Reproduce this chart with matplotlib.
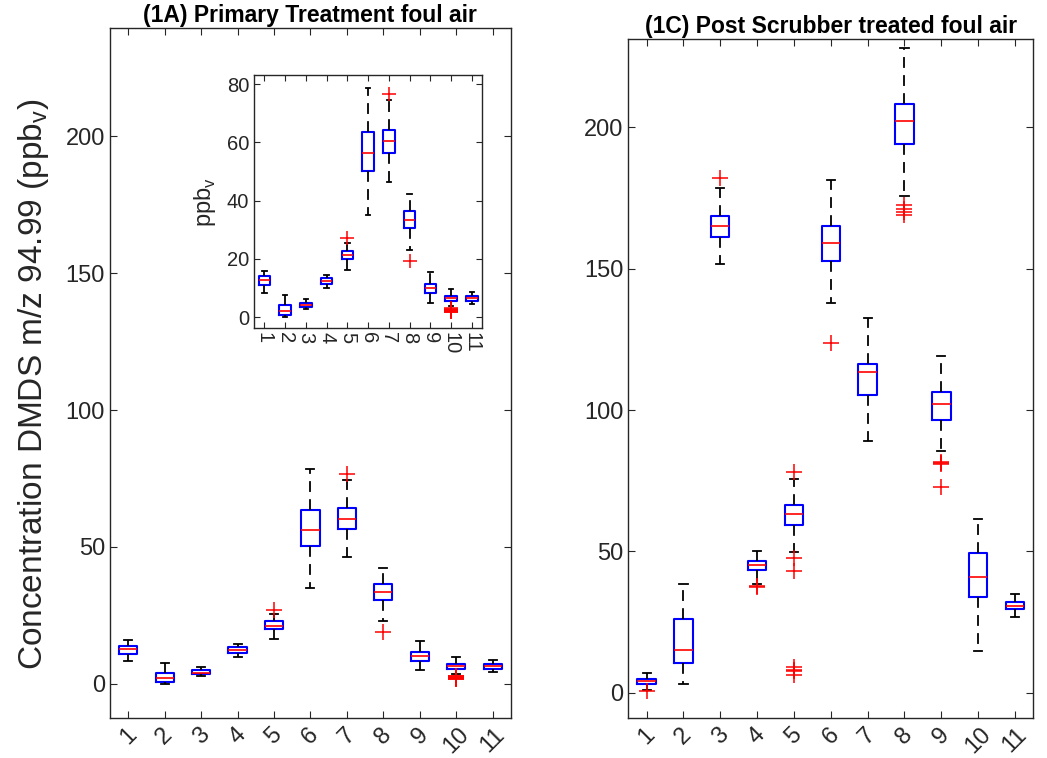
import matplotlib
matplotlib.use("Agg")
import matplotlib.pyplot as plt

plt.rcParams["font.family"] = ["Liberation Sans", "DejaVu Sans"]
plt.rcParams["mathtext.fontset"] = "custom"
plt.rcParams["mathtext.rm"] = "Liberation Sans"

groups = [str(i) for i in range(1, 12)]

# (1A) primary treatment foul air, box statistics per group
pt_med = [12.6, 2.0, 4.1, 12.3, 21.3, 56.3, 60.3, 33.5, 10.0, 6.6, 6.5]
pt_q1 = [11.0, 0.6, 3.5, 11.3, 19.9, 50.2, 56.5, 30.6, 8.4, 5.6, 5.6]
pt_q3 = [14.0, 4.0, 4.9, 13.3, 22.8, 63.5, 64.3, 36.3, 11.5, 7.4, 7.3]
pt_lo = [8.4, 0.1, 2.7, 9.9, 16.3, 35.0, 46.5, 23.0, 5.0, 3.7, 4.5]
pt_hi = [15.9, 7.6, 6.2, 14.6, 25.5, 78.5, 74.5, 42.4, 15.6, 9.8, 8.8]
pt_out = [[], [], [], [], [27.0], [], [76.5], [19.1], [],
          [1.6, 1.9, 2.1, 2.3, 2.5, 2.8, 3.0], []]

# (1C) post scrubber treated foul air
ps_med = [4.3, 15.1, 164.9, 45.1, 63.4, 159.1, 113.4, 202.1, 102.1, 41.1, 30.9]
ps_q1 = [3.3, 10.6, 161.2, 43.3, 59.3, 152.8, 105.4, 194.1, 96.5, 33.9, 29.6]
ps_q3 = [5.1, 26.2, 168.6, 46.5, 66.4, 165.1, 116.4, 208.2, 106.3, 49.6, 32.3]
ps_lo = [1.2, 3.3, 151.5, 38.5, 49.8, 137.8, 89.1, 175.6, 85.4, 15.0, 26.9]
ps_hi = [7.0, 38.6, 178.4, 50.1, 75.6, 181.4, 132.4, 228.0, 119.2, 61.4, 35.1]
ps_out = [[0.7], [], [181.9], [37.6, 37.8],
          [78.0, 47.6, 43.2, 9.0, 8.0, 7.7, 6.2], [123.7], [],
          [172.5, 171.2, 170.0, 168.8], [81.0, 81.3, 81.6, 72.8], [], []]

GREY = "#262626"


def make_stats(med, q1, q3, lo, hi, out):
    return [dict(med=m, q1=a, q3=b, whislo=l, whishi=h, fliers=f, label=g)
            for m, a, b, l, h, f, g in zip(med, q1, q3, lo, hi, out, groups)]


def draw_boxes(ax, stats, width, msize):
    ax.bxp(stats, widths=width, capwidths=0.22,
           boxprops=dict(color="blue", linewidth=1.5),
           medianprops=dict(color="red", linewidth=1.2),
           whiskerprops=dict(color="black", linewidth=1.3, linestyle=(0, (6, 4))),
           capprops=dict(color="black", linewidth=1.3),
           flierprops=dict(marker="+", markeredgecolor="red", markersize=msize,
                           markeredgewidth=1.1, linestyle="none"))
    ax.set_xlim(0.5, 11.5)
    ax.tick_params(direction="in", top=True, right=True, length=5, width=0.8,
                   colors=GREY, labelcolor=GREY)
    for sp in ax.spines.values():
        sp.set_color(GREY)
        sp.set_linewidth(1.0)


fig = plt.figure(figsize=(10.47, 7.58), dpi=100)

ax1 = fig.add_axes([0.105, 0.053, 0.383, 0.910])
draw_boxes(ax1, make_stats(pt_med, pt_q1, pt_q3, pt_lo, pt_hi, pt_out), 0.5, 11)
ax1.set_ylim(-12.4, 239.5)
ax1.set_yticks([0, 50, 100, 150, 200])
ax1.tick_params(axis="both", labelsize=17)
ax1.tick_params(axis="x", rotation=45, pad=4)
ax1.set_title("(1A) Primary Treatment foul air", fontsize=16.5, fontweight="bold", pad=4)
ax1.set_ylabel(r"Concentration DMDS m/z 94.99 (ppb$_\mathregular{v}$)", fontsize=24, color=GREY)
ax1.yaxis.set_label_coords(-0.147, 0.483)

ins = fig.add_axes([0.2426, 0.567, 0.218, 0.334])
draw_boxes(ins, make_stats(pt_med, pt_q1, pt_q3, pt_lo, pt_hi, pt_out), 0.55, 9.5)
ins.set_ylim(-3.8, 83.1)
ins.set_yticks([0, 20, 40, 60, 80])
ins.tick_params(axis="both", labelsize=14.5, length=4)
ins.tick_params(axis="x", rotation=270, pad=3)
ins.set_ylabel(r"ppb$_\mathregular{v}$", fontsize=17, color=GREY, labelpad=6)

ax2 = fig.add_axes([0.600, 0.053, 0.387, 0.896])
draw_boxes(ax2, make_stats(ps_med, ps_q1, ps_q3, ps_lo, ps_hi, ps_out), 0.5, 11)
ax2.set_ylim(-8.8, 231.3)
ax2.set_yticks([0, 50, 100, 150, 200])
ax2.tick_params(axis="both", labelsize=17)
ax2.tick_params(axis="x", rotation=45, pad=4)
ax2.set_title("(1C) Post Scrubber treated foul air", fontsize=16.5, fontweight="bold", pad=4)

fig.savefig("out.png", dpi=100)
